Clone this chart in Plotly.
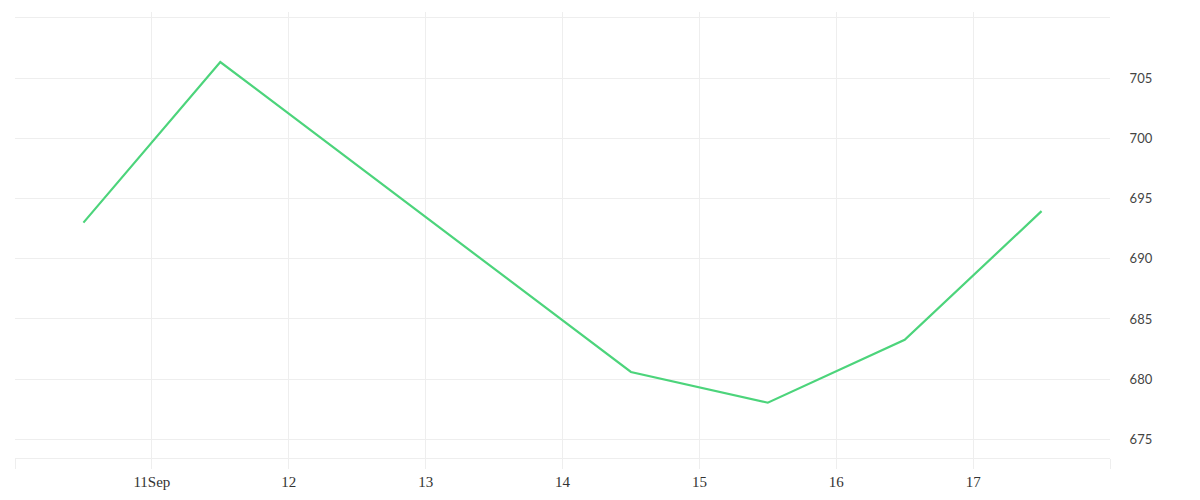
import plotly.graph_objects as go

dates = ["2023-09-10 12:00", "2023-09-11 12:00", "2023-09-14 12:00",
         "2023-09-15 12:00", "2023-09-16 12:00", "2023-09-17 12:00"]
values = [693.0, 706.33, 680.6, 678.05, 683.27, 693.95]

x_tickvals = ["2023-09-10", "2023-09-11", "2023-09-12", "2023-09-13", "2023-09-14",
              "2023-09-15", "2023-09-16", "2023-09-17", "2023-09-18"]
x_ticktext = ["", "11Sep", "12", "13", "14", "15", "16", "17", ""]
y_tickvals = [675, 680, 685, 690, 695, 700, 705, 710]
y_ticktext = ["675", "680", "685", "690", "695", "700", "705", ""]

grid = "#eeeeee"

fig = go.Figure(go.Scatter(
    x=dates, y=values, mode="lines",
    line=dict(color="#4cd47b", width=2.2),
    hoverinfo="x+y",
))

fig.update_layout(
    width=1200, height=500,
    margin=dict(l=7, r=98, t=4, b=50),
    paper_bgcolor="white", plot_bgcolor="white",
    showlegend=False,
    xaxis=dict(
        range=["2023-09-10", "2023-09-18"],
        tickvals=x_tickvals, ticktext=x_ticktext,
        showgrid=True, gridcolor=grid, gridwidth=1,
        ticks="outside", ticklen=10, tickcolor=grid,
        showline=True, linecolor=grid, linewidth=1,
        zeroline=False,
        tickfont=dict(family="Liberation Serif", size=15, color="#333333"),
    ),
    yaxis=dict(
        side="right",
        range=[673.46, 710.48],
        tickvals=y_tickvals, ticktext=y_ticktext,
        showgrid=True, gridcolor=grid, gridwidth=1,
        ticks="outside", ticklen=16, tickcolor="rgba(0,0,0,0)",
        showline=False, zeroline=False,
        tickfont=dict(family="Lato", size=13, color="#444444"),
    ),
)

fig.write_html("out.html")
